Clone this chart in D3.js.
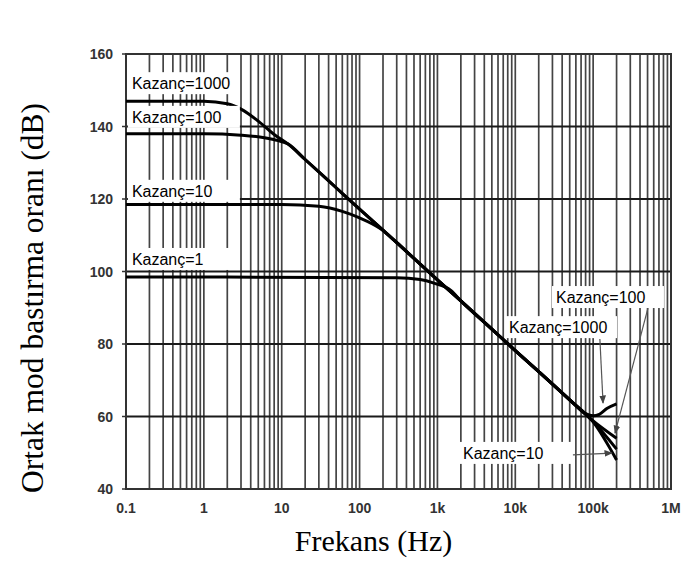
<!DOCTYPE html>
<meta charset="utf-8">
<style>
    body { margin: 0; background: #fff; }
    .grid-v line { stroke: #444; stroke-width: 1.7px; }
    .grid-h line { stroke: #1a1a1a; stroke-width: 2px; }
    .frame { fill: none; stroke: #333; stroke-width: 2px; }
    .curve { fill: none; stroke: #000; stroke-width: 3px; stroke-linejoin: round; }
    .tick-label { font-family: "Liberation Sans", Arial, sans-serif; font-weight: bold; font-size: 14px; fill: #333; }
    .title { font-family: "Liberation Serif", "Times New Roman", serif; font-size: 30px; fill: #000; }
    .note { font-family: "Liberation Sans", Arial, sans-serif; font-size: 16px; fill: #000; }
    .arrow { stroke: #555; stroke-width: 1.2px; fill: none; }
</style>
<svg width="683" height="561"></svg>
<script src="https://d3js.org/d3.v7.min.js"></script>
<script>

    // axis ticks
    var xTicks = [0.1, 1, 10, 100, 1e3, 1e4, 1e5, 1e6];
    var xTickLabels = ["0.1", "1", "10", "100", "1k", "10k", "100k", "1M"];
    var yTicks = [40, 60, 80, 100, 120, 140, 160];

    // CMRR curves: [frequency Hz, dB]
    var gain1000 = [[0.1, 147], [1, 147], [2, 146.3], [3, 144.8], [5, 141.5], [8, 137.8], [12, 135.2],
        [20, 130.9], [50, 123.1], [100, 117.2], [200, 111.4], [500, 103.6], [1000, 97.7], [2000, 91.9],
        [5000, 84.1], [10000, 78.2], [20000, 72.4], [50000, 64.6], [80000, 60.8], [100000, 60.2],
        [120000, 60.6], [150000, 62.2], [200000, 63.5]];
    var gain100 = [[0.1, 138], [1, 138], [3, 137.6], [6, 136.9], [9, 136.1], [12, 135.2],
        [20, 130.9], [50, 123.1], [100, 117.2], [200, 111.4], [500, 103.6], [1000, 97.7], [2000, 91.9],
        [5000, 84.1], [10000, 78.2], [20000, 72.4], [50000, 64.6], [100000, 58.8], [200000, 54]];
    var gain10 = [[0.1, 118.5], [10, 118.5], [30, 118], [60, 116.6], [100, 114.8], [180, 112],
        [300, 108], [500, 103.6], [1000, 97.7], [2000, 91.9], [5000, 84.1], [10000, 78.2],
        [20000, 72.4], [50000, 64.6], [100000, 58.5], [200000, 48]];
    var gain1 = [[0.1, 98.5], [300, 98.3], [600, 97.8], [900, 96.8], [1500, 94.7], [2000, 91.9],
        [5000, 84.1], [10000, 78.2], [20000, 72.4], [50000, 64.6], [100000, 58.6], [200000, 51]];

    // annotations (text start position in data units)
    var noteText = ["Kazanç=1000", "Kazanç=100", "Kazanç=10", "Kazanç=1", "Kazanç=100", "Kazanç=1000", "Kazanç=10"];
    var noteFreq = [0.119, 0.119, 0.119, 0.119, 33300, 8300, 2130];
    var noteDb = [150.3, 141.0, 120.6, 101.8, 91.3, 83.0, 48.3];
    var arrowFrom = [[122000, 81.4], [506000, 89.9], [55000, 49.4]];
    var arrowTo = [[134000, 63.7], [191000, 55.4], [175000, 49.9]];

    var svg = d3.select("svg"),
        margin = {top: 54, right: 12, bottom: 72, left: 126},
        width = +svg.attr("width") - margin.left - margin.right,
        height = +svg.attr("height") - margin.top - margin.bottom;

    var x = d3.scaleLog().domain([0.1, 1e6]).range([0, width]);
    var y = d3.scaleLinear().domain([40, 160]).range([height, 0]);

    var g = svg.append("g")
        .attr("transform", "translate(" + margin.left + "," + margin.top + ")");

    // vertical grid on every 1..9 step of each decade
    var minor = [];
    for (var d = -1; d < 6; d++) {
        for (var k = 2; k <= 10; k++) minor.push(k * Math.pow(10, d));
    }
    g.append("g").attr("class", "grid-v")
        .selectAll("line").data(minor).enter().append("line")
        .attr("x1", function(f) { return x(f); })
        .attr("x2", function(f) { return x(f); })
        .attr("y1", 0).attr("y2", height);

    g.append("g").attr("class", "grid-h")
        .selectAll("line").data(yTicks).enter().append("line")
        .attr("x1", 0).attr("x2", width)
        .attr("y1", function(v) { return y(v); })
        .attr("y2", function(v) { return y(v); });

    g.append("rect").attr("class", "frame")
        .attr("width", width).attr("height", height);

    // small ticks on the left
    g.append("g").selectAll("line").data(yTicks).enter().append("line")
        .attr("x1", -4).attr("x2", 0)
        .attr("y1", function(v) { return y(v); })
        .attr("y2", function(v) { return y(v); })
        .attr("stroke", "#333").attr("stroke-width", 1.5);

    var line = d3.line()
        .curve(d3.curveMonotoneX)
        .x(function(p) { return x(p[0]); })
        .y(function(p) { return y(p[1]); });

    [gain1, gain10, gain100, gain1000].forEach(function(s) {
        g.append("path").datum(s).attr("class", "curve").attr("d", line);
    });

    // tick labels
    g.append("g").selectAll("text").data(yTicks).enter().append("text")
        .attr("class", "tick-label")
        .attr("x", -13)
        .attr("y", function(v) { return y(v); })
        .attr("dy", "0.36em")
        .attr("text-anchor", "end")
        .text(function(v) { return v; });

    g.append("g").selectAll("text").data(xTicks).enter().append("text")
        .attr("class", "tick-label")
        .attr("x", function(f) { return x(f); })
        .attr("y", height + 24)
        .attr("text-anchor", "middle")
        .text(function(f, i) { return xTickLabels[i]; });

    // arrows
    svg.append("defs").append("marker")
        .attr("id", "head")
        .attr("viewBox", "0 0 10 10")
        .attr("refX", 9).attr("refY", 5)
        .attr("markerWidth", 7).attr("markerHeight", 7)
        .attr("orient", "auto")
        .append("path").attr("d", "M0,1L10,5L0,9z").attr("fill", "#444");

    // annotation boxes (pasted-on white labels, roughly equal width)
    var notes = g.append("g").selectAll("g").data(noteText).enter().append("g");
    notes.append("rect")
        .attr("x", function(t, i) { return x(noteFreq[i]) - 4; })
        .attr("y", function(t, i) { return y(noteDb[i]) - 17; })
        .attr("width", 112).attr("height", 22)
        .attr("fill", "#fff");
    notes.append("text").attr("class", "note")
        .attr("x", function(t, i) { return x(noteFreq[i]); })
        .attr("y", function(t, i) { return y(noteDb[i]); })
        .text(function(t) { return t; });

    g.append("g").selectAll("line").data(arrowFrom).enter().append("line")
        .attr("class", "arrow")
        .attr("x1", function(p) { return x(p[0]); })
        .attr("y1", function(p) { return y(p[1]); })
        .attr("x2", function(p, i) { return x(arrowTo[i][0]); })
        .attr("y2", function(p, i) { return y(arrowTo[i][1]); })
        .attr("marker-end", "url(#head)");

    // axis titles
    svg.append("text").attr("class", "title")
        .attr("x", margin.left + width / 2 - 25)
        .attr("y", 551)
        .attr("text-anchor", "middle")
        .text("Frekans (Hz)");

    svg.append("text").attr("class", "title")
        .style("font-size", "31.5px")
        .attr("transform", "translate(43," + 298 + ") rotate(-90)")
        .attr("text-anchor", "middle")
        .text("Ortak mod bastırma oranı (dB)");

</script>
